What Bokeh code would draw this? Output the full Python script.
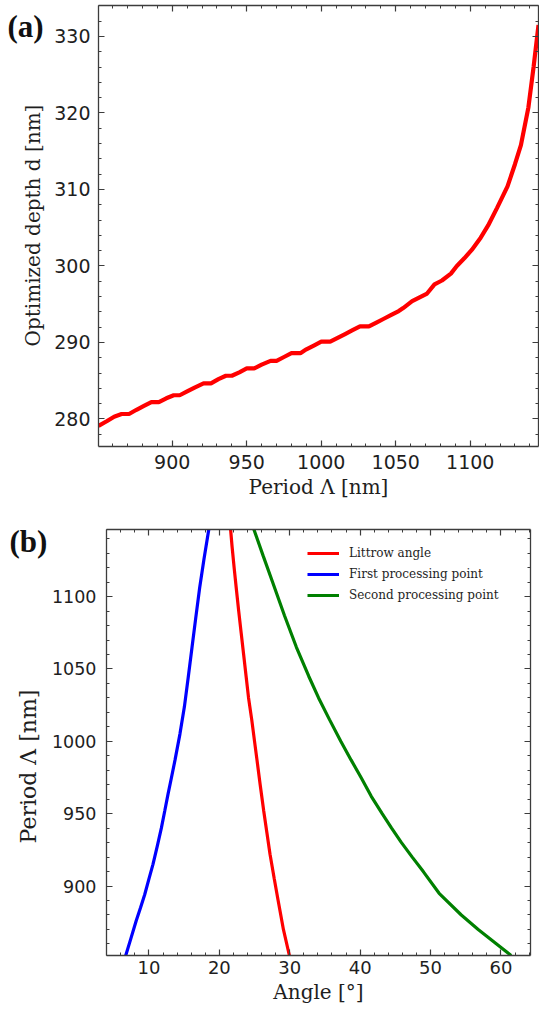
import math
from bokeh.plotting import figure
from bokeh.models import (Range1d, LinearAxis, FixedTicker, Label, Legend, LegendItem,
                          CustomJSTickFormatter)
from bokeh.layouts import row, column
from bokeh.embed import file_html
from bokeh.resources import INLINE

# ---------------- Panel (a) data ----------------
period_a = [850.5, 856, 861, 866, 871, 876, 881, 886, 891, 896, 901, 905, 910, 915, 921, 926,
            931, 936, 940, 945, 950, 955, 960, 966, 970, 975, 980, 986, 990, 995, 1000, 1006,
            1011, 1016, 1021, 1026, 1032, 1037, 1042, 1047, 1052, 1055, 1061, 1066, 1071, 1076,
            1081, 1087, 1091, 1096, 1101, 1107, 1112, 1118, 1125, 1130, 1134, 1139, 1142.5, 1145.8]
depth_a = [279.1, 279.7, 280.3, 280.65, 280.65, 281.2, 281.7, 282.2, 282.2, 282.7, 283.1, 283.1,
           283.6, 284.1, 284.65, 284.65, 285.2, 285.65, 285.65, 286.1, 286.6, 286.6, 287.1, 287.6,
           287.6, 288.1, 288.6, 288.6, 289.1, 289.6, 290.1, 290.1, 290.6, 291.1, 291.6, 292.1,
           292.1, 292.6, 293.1, 293.6, 294.1, 294.5, 295.4, 295.9, 296.4, 297.6, 298.1, 299.0,
           300.0, 301.0, 302.1, 303.7, 305.3, 307.6, 310.4, 313.3, 315.8, 320.7, 326.0, 331.5]
xticks_a = [900, 950, 1000, 1050, 1100]
yticks_a = [280, 290, 300, 310, 320, 330]
xlabel_a = "Period Λ [nm]"
ylabel_a = "Optimized depth d [nm]"

# ---------------- Panel (b) data ----------------
period_littrow = [852, 870, 890, 905, 922, 937, 952, 970, 987, 1000, 1015, 1030, 1045, 1060,
                  1075, 1090, 1106, 1120, 1135, 1146.4]
angle_littrow = [29.95, 29.1, 28.35, 27.8, 27.2, 26.75, 26.3, 25.8, 25.35, 25.0, 24.6, 24.15,
                 23.8, 23.45, 23.1, 22.75, 22.4, 22.1, 21.8, 21.6]
period_first = [852, 864, 876, 885, 894, 905, 915, 928, 940, 952, 963.5, 975, 987, 1005, 1024,
                1045, 1065, 1085, 1106, 1126, 1146.4]
angle_first = [6.7, 7.45, 8.19, 8.8, 9.39, 10.0, 10.57, 11.2, 11.76, 12.25, 12.71, 13.2, 13.7,
               14.4, 15.04, 15.6, 16.12, 16.64, 17.2, 17.82, 18.5]
period_second = [852, 861, 870, 880, 895, 910, 920, 930, 940, 950, 962, 975, 987, 1000, 1015,
                 1030, 1045, 1065, 1087, 1110, 1128, 1146.4]
angle_second = [61.45, 59.11, 56.77, 54.37, 51.22, 48.97, 47.4, 45.87, 44.47, 43.13, 41.58,
                40.13, 38.73, 37.25, 35.65, 34.1, 32.7, 30.95, 29.25, 27.57, 26.24, 24.91]
series_names = ["Littrow angle", "First processing point", "Second processing point"]
xticks_b = [10, 20, 30, 40, 50, 60]
yticks_b = [900, 950, 1000, 1050, 1100]
xlabel_b = "Angle [°]"
ylabel_b = "Period Λ [nm]"

AX = "#3c3c3c"
TXT = "#1e1e1e"
TICK_FONT = "DejaVu Sans"
LABEL_FONT = "DejaVu Serif"
H = 508


def minor_from(major, n=5):
    step = (major[1] - major[0]) / n
    out = []
    v = major[0] - 5 * step * n
    end = major[-1] + 5 * step * n
    while v <= end:
        out.append(round(v, 6))
        v += step
    return out


def style(ax, major, show, standoff=8, size="19px"):
    ax.ticker = FixedTicker(ticks=major, minor_ticks=minor_from(major))
    ax.major_tick_in = 6
    ax.major_tick_out = 0
    ax.minor_tick_in = 3
    ax.minor_tick_out = 0
    ax.axis_line_color = AX
    ax.axis_line_width = 1.3
    ax.major_tick_line_color = AX
    ax.minor_tick_line_color = AX
    ax.major_tick_line_width = 1.2
    ax.minor_tick_line_width = 1.0
    ax.major_label_text_font = TICK_FONT
    ax.major_label_text_font_size = size
    ax.major_label_text_color = TXT
    ax.major_label_standoff = standoff
    ax.axis_label_text_font = LABEL_FONT
    ax.axis_label_text_font_style = "normal"
    ax.axis_label_text_font_size = "20px"
    ax.axis_label_text_color = TXT
    if not show:
        ax.formatter = CustomJSTickFormatter(code="return ''")
        ax.major_label_text_font_size = "1px"
        ax.major_label_standoff = 0


def side_strip(tag, tag_x, tag_y, ylabel, ylabel_x, ylabel_y, w, ysize="20px"):
    # screen units of the strip are measured from its frame's bottom-left corner,
    # and the frame is aligned with the neighbouring plot's frame
    f = figure(width=w, height=H, output_backend="svg", toolbar_location=None,
               x_axis_type=None, y_axis_type=None, min_border=0,
               min_border_left=0, min_border_right=0, min_border_top=0, min_border_bottom=0,
               x_range=Range1d(0, 1), y_range=Range1d(0, 1))
    f.outline_line_color = None
    f.background_fill_alpha = 0
    f.border_fill_alpha = 0
    f.add_layout(Label(x=tag_x, y=tag_y, x_units="screen", y_units="screen", text=tag,
                       text_font="Liberation Serif", text_font_style="bold",
                       text_font_size="31px", text_baseline="middle", text_align="left",
                       text_color="#111111"))
    f.add_layout(Label(x=ylabel_x, y=ylabel_y, x_units="screen", y_units="screen",
                       text=ylabel, angle=math.pi / 2, text_font=LABEL_FONT,
                       text_font_size=ysize, text_baseline="middle", text_align="center",
                       text_color=TXT))
    return f


# ---------------- Figure (a) ----------------
pa = figure(width=489, height=H, output_backend="svg", toolbar_location=None,
            x_range=Range1d(850.5, 1145.8), y_range=Range1d(276.4, 334.05),
            min_border_left=48, min_border_right=1, min_border_top=5, min_border_bottom=62)
pa.xgrid.visible = False
pa.ygrid.visible = False
pa.outline_line_color = None
pa.line(period_a, depth_a, line_color="#ff0000", line_width=4.2)
style(pa.xaxis[0], xticks_a, True, 8)
style(pa.yaxis[0], yticks_a, True, 8)
pa.xaxis[0].axis_label = xlabel_a
pa.xaxis[0].axis_label_standoff = 3
ta = LinearAxis()
style(ta, xticks_a, False)
pa.add_layout(ta, "above")
ra = LinearAxis()
style(ra, yticks_a, False)
pa.add_layout(ra, "right")
# frame bottom at y=446 of this figure
strip_a = side_strip("(a)", 7, 446 - 26, ylabel_a, 32, 446 - 225, 50)

# ---------------- Figure (b) ----------------
pb = figure(width=491, height=H, output_backend="svg", toolbar_location=None,
            x_range=Range1d(3.97, 64.2), y_range=Range1d(852, 1146.4),
            min_border_left=55, min_border_right=9, min_border_top=21, min_border_bottom=61)
pb.xgrid.visible = False
pb.ygrid.visible = False
pb.outline_line_color = None
r1 = pb.line(angle_littrow, period_littrow, line_color="#ff0000", line_width=3.2)
r2 = pb.line(angle_first, period_first, line_color="#0000ff", line_width=3.2)
r3 = pb.line(angle_second, period_second, line_color="#008000", line_width=3.2)
style(pb.xaxis[0], xticks_b, True, 5, "18px")
style(pb.yaxis[0], yticks_b, True, 10, "17.5px")
pb.xaxis[0].axis_label = xlabel_b
pb.xaxis[0].axis_label_standoff = 3
tb = LinearAxis()
style(tb, xticks_b, False)
pb.add_layout(tb, "above")
rb = LinearAxis()
style(rb, yticks_b, False)
pb.add_layout(rb, "right")
legend = Legend(items=[LegendItem(label=series_names[0], renderers=[r1]),
                       LegendItem(label=series_names[1], renderers=[r2]),
                       LegendItem(label=series_names[2], renderers=[r3])],
                location=(201, 350), border_line_color=None, background_fill_alpha=0,
                label_text_font=LABEL_FONT, label_text_font_size="12px",
                label_text_color=TXT, glyph_width=32, glyph_height=20,
                label_height=20, spacing=1, padding=6, margin=0, label_standoff=10)
pb.add_layout(legend)
# frame bottom at y=447 of this figure
strip_b = side_strip("(b)", 9, 447 - 33, ylabel_b, 28, 447 - 258, 48, "22px")

layout = column(row(strip_a, pa, spacing=0), row(strip_b, pb, spacing=0), spacing=0)
open("out.html", "w").write(file_html(layout, INLINE))
